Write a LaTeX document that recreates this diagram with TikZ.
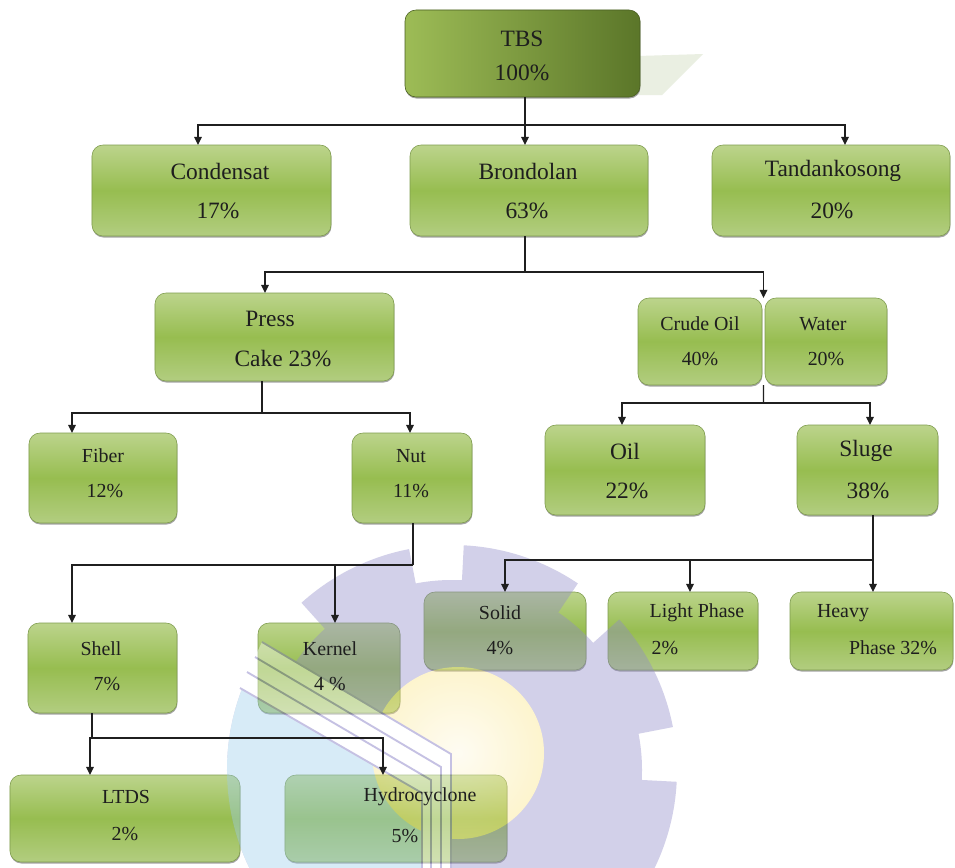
\documentclass[tikz,border=0pt]{standalone}
\usepackage{fontspec}
\setmainfont{Liberation Serif}
\usetikzlibrary{arrows.meta,calc,shadows}
\definecolor{gtop}{HTML}{BCD48C}
\definecolor{gmid}{HTML}{97BD50}
\definecolor{gbot}{HTML}{B2CD80}
\definecolor{gedge}{HTML}{7F9C4E}
\definecolor{tleft}{HTML}{9DBC56}
\definecolor{tright}{HTML}{5B7629}
\definecolor{tcol}{HTML}{1E1E1E}
\definecolor{wmlav}{RGB}{144,138,200}
\definecolor{wmline}{RGB}{110,100,185}
\definecolor{wmyel}{RGB}{251,229,133}
\definecolor{wmblue}{RGB}{157,205,235}
\definecolor{tbsshadow}{HTML}{EAEFE2}
\tikzset{
  gbox/.style={rectangle, rounded corners=0.33cm, inner sep=0pt, outer sep=0pt,
    draw=gedge, line width=0.5pt, top color=gtop, bottom color=gbot, middle color=gmid,
    drop shadow={shadow xshift=0.4pt, shadow yshift=-1.3pt, opacity=0.5, fill=black!70}},
  tbsbox/.style={gbox, left color=tleft, right color=tright, draw=tright!80!black},
  bigt/.style={inner sep=0pt, text=tcol, font=\fontsize{20}{24}\selectfont},
  medt/.style={inner sep=0pt, text=tcol, font=\fontsize{17}{20}\selectfont},
  conn/.style={draw=black!88, line width=1.1pt},
  arr/.style={conn, -{Triangle[width=6.5pt,length=7pt]}},
}
\newcommand\wmgear[1]{%
  \fill[#1] (452,770) circle (5.7cm);
  \begin{scope}
    \clip (452,770) circle (6.75cm);
    \foreach \a in {26.5,71.5,116.5,161.5,206.5,251.5,296.5,341.5}
      \fill[#1, shift={(452,770)}] (0,0) -- ({-\a+15.5}:300) -- ({-\a-15.5}:300) -- cycle;
  \end{scope}}
\begin{document}
\begin{tikzpicture}[x=0.03cm, y=-0.03cm]
\useasboundingbox (0,0) rectangle (955,867);
\fill[white] (0,0) rectangle (955,867);

% TBS reflection shadow
\fill[tbsshadow] (638,56) -- (703,54) -- (662,95) -- (638,95) -- cycle;

% boxes
\node[tbsbox, minimum width=7.05cm, minimum height=2.61cm] (TBS) at (522.5,53.5) {};
\node[gbox, minimum width=7.17cm, minimum height=2.73cm] (Cond) at (211.5,190.5) {};
\node[gbox, minimum width=7.14cm, minimum height=2.73cm] (Brond) at (529,190.5) {};
\node[gbox, minimum width=7.14cm, minimum height=2.73cm] (Tand) at (831,190.5) {};
\node[gbox, minimum width=7.17cm, minimum height=2.64cm] (Press) at (274.5,337) {};
\node[gbox, minimum width=3.72cm, minimum height=2.61cm] (Crude) at (700,341.5) {};
\node[gbox, minimum width=3.66cm, minimum height=2.61cm] (Water) at (826,341.5) {};
\node[gbox, minimum width=4.44cm, minimum height=2.7cm] (Fiber) at (103,478) {};
\node[gbox, minimum width=3.6cm, minimum height=2.7cm] (Nut) at (412,478) {};
\node[gbox, minimum width=4.8cm, minimum height=2.7cm] (Oil) at (625,470) {};
\node[gbox, minimum width=4.23cm, minimum height=2.7cm] (Sluge) at (867.5,470) {};
\node[gbox, minimum width=4.86cm, minimum height=2.34cm] (Solid) at (505,631) {};
\node[gbox, minimum width=4.5cm, minimum height=2.34cm] (Light) at (683,631) {};
\node[gbox, minimum width=4.89cm, minimum height=2.34cm] (Heavy) at (871.5,631) {};
\node[gbox, minimum width=4.47cm, minimum height=2.7cm] (Shell) at (102.5,668) {};
\node[gbox, minimum width=4.26cm, minimum height=2.7cm] (Kernel) at (329,668) {};
\node[gbox, minimum width=6.9cm, minimum height=2.61cm] (LTDS) at (125,818.5) {};
\node[gbox, minimum width=6.66cm, minimum height=2.61cm] (Hydro) at (396,818.5) {};

% watermark (semi-transparent logo over the boxes)
\begin{scope}[transparency group, opacity=0.4]
\clip (0,0) rectangle (955,867);
\wmgear{wmlav}
\begin{scope}
  \clip (100,686) -- (240,688) -- (422,793) -- (422,900) -- (100,900) -- cycle;
  \fill[wmblue] (452,770) circle (6.75cm);
\end{scope}
\shade[inner color=wmyel!25, outer color=wmyel] (458,753) circle (2.58cm);
\fill[white] (262,642) -- (451,754) -- (451,900) -- (422,900) -- (422,793) -- (240,688) -- cycle;
\draw[wmline, line width=1.6pt] (262,642) -- (451,754) -- (451,900);
\draw[wmline, line width=1.6pt] (255,657) -- (441,767) -- (441,900);
\draw[wmline, line width=1.6pt] (247,672) -- (431,780) -- (431,900);
\draw[wmline, line width=1.6pt] (240,688) -- (422,793) -- (422,900);
\end{scope}

% texts
\node[bigt] (tTBSa) at (522,39) {TBS};
\node[bigt] (tTBSb) at (522,73) {100\%};
\node[bigt] (tConda) at (220,171) {Condensat};
\node[bigt] (tCondb) at (218,211) {17\%};
\node[bigt] (tBronda) at (528,171) {Brondolan};
\node[bigt] (tBrondb) at (527,211) {63\%};
\node[bigt] (tTanda) at (833,171) {Tandankosong};
\node[bigt] (tTandb) at (832,211) {20\%};
\node[bigt] (tPressa) at (270,319) {Press};
\node[bigt] (tPressb) at (283,359) {Cake 23\%};
\node[medt] (tCrudea) at (700,324) {Crude Oil};
\node[medt] (tCrudeb) at (700,359) {40\%};
\node[medt] (tWatera) at (823,324) {Water};
\node[medt] (tWaterb) at (826,359) {20\%};
\node[medt] (tFibera) at (103,456) {Fiber};
\node[medt] (tFiberb) at (105,491) {12\%};
\node[medt] (tNuta) at (411,456) {Nut};
\node[medt] (tNutb) at (411,491) {11\%};
\node[bigt] (tOila) at (625,451) {Oil};
\node[bigt] (tOilb) at (627,491) {22\%};
\node[bigt] (tSlugea) at (866,451) {Sluge};
\node[bigt] (tSlugeb) at (868,491) {38\%};
\node[medt] (tSolida) at (500,613) {Solid};
\node[medt] (tSolidb) at (500,648) {4\%};
\node[medt] (tLighta) at (697,613) {Light Phase};
\node[medt] (tLightb) at (665,648) {2\%};
\node[medt] (tHeavya) at (843,613) {Heavy};
\node[medt] (tHeavyb) at (893,648) {Phase 32\%};
\node[medt] (tShella) at (101,649) {Shell};
\node[medt] (tShellb) at (107,684) {7\%};
\node[medt] (tKernela) at (330,649) {Kernel};
\node[medt] (tKernelb) at (330,684) {4 \%};
\node[medt] (tLTDSa) at (126,797) {LTDS};
\node[medt] (tLTDSb) at (125,834) {2\%};
\node[medt] (tHydroa) at (420,797) {Hydrocyclone};
\node[medt] (tHydrob) at (405,836) {5\%};

% connectors
\coordinate (b1) at (525,125);
\draw[conn] (b1 |- TBS.south) -- (b1);
\draw[arr] (b1) -| ($(Cond.north)+(-13.5,0)$);
\draw[arr] (b1) -- (b1 |- Brond.north);
\draw[arr] (b1) -| ($(Tand.north)+(14,0)$);

\coordinate (b2) at (525,272);
\draw[conn] (b2 |- Brond.south) -- (b2);
\draw[arr] (b2) -| ($(Press.north)+(-9.5,0)$);
\draw[arr] (b2) -| ($(Crude.north east)!0.5!(Water.north west)$);

\coordinate (b3) at (262,413);
\draw[conn] (b3 |- Press.south) -- (b3);
\draw[arr] (b3) -| ($(Fiber.north)+(-31,0)$);
\draw[arr] (b3) -| ($(Nut.north)+(-2,0)$);

\coordinate (b4) at (763.5,403);
\draw[conn] ($(Crude.south east)!0.5!(Water.south west)$) -- (b4);
\draw[arr] (b4) -| ($(Oil.north)+(-3,0)$);
\draw[arr] (b4) -| ($(Sluge.north)+(2.5,0)$);

\coordinate (b5) at (413,565);
\draw[conn] (b5 |- Nut.south) -- (b5);
\draw[arr] (b5) -| ($(Shell.north)+(-30.5,0)$);
\draw[arr] (b5) -| ($(Kernel.north)+(6,0)$);

\coordinate (b6) at (873,560);
\draw[conn] (b6 |- Sluge.south) -- (b6);
\draw[arr] (b6) -| (Solid.north);
\draw[arr] (b6) -| ($(Light.north)+(7,0)$);
\draw[arr] (b6) -- (b6 |- Heavy.north);

\coordinate (b7) at (92,738);
\draw[conn] (b7 |- Shell.south) -- (b7);
\draw[arr] (b7) -| ($(LTDS.north)+(-35,0)$);
\draw[arr] (b7) -| ($(Hydro.north)+(-13,0)$);
\end{tikzpicture}
\end{document}
